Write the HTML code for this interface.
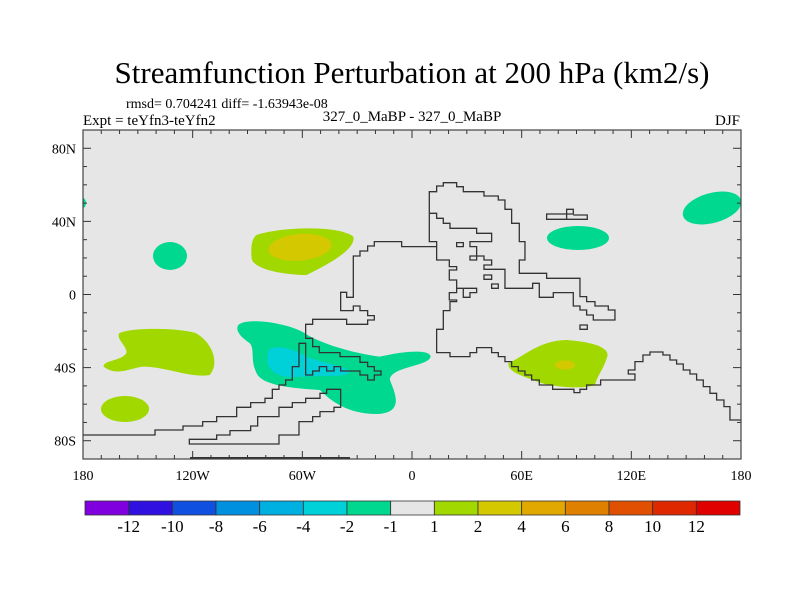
<!DOCTYPE html>
<html><head><meta charset="utf-8"><style>
html,body{margin:0;padding:0;background:#fff;}
svg text{font-family:"Liberation Serif",serif;fill:#000;}
</style></head><body>
<svg id="chart" width="800" height="600" viewBox="0 0 800 600" xmlns="http://www.w3.org/2000/svg">
<rect width="800" height="600" fill="#fff"/>
<text x="412" y="83" font-size="31" text-anchor="middle">Streamfunction Perturbation at 200 hPa (km2/s)</text>
<text x="126" y="108" font-size="14">rmsd= 0.704241 diff= -1.63943e-08</text>
<text x="83" y="125" font-size="15">Expt = teYfn3-teYfn2</text>
<text x="412" y="121" font-size="15" text-anchor="middle">327_0_MaBP - 327_0_MaBP</text>
<text x="740" y="125" font-size="15" text-anchor="end">DJF</text>
<defs><clipPath id="plotclip"><rect x="83" y="130" width="658" height="329"/></clipPath></defs>
<g>
<rect x="83" y="130" width="658" height="329" fill="#e6e6e6"/>
<g clip-path="url(#plotclip)">
 <g transform="translate(180,170) scale(0.3333)">
  <path fill="#a0d800" d="M230,195 C300,170 480,165 520,200 C530,240 430,290 380,315 C320,315 220,300 215,265 C212,230 215,205 230,195 Z"/>
  <ellipse fill="#d4c800" cx="360" cy="232" rx="95" ry="40" transform="rotate(-5 360 232)"/>
  <path fill="#00d890" d="M175,465 C200,440 330,460 375,490 C420,520 520,550 600,560 C660,545 750,535 752,560 C745,590 630,590 630,630 C640,660 680,730 590,732 C500,732 450,690 420,660 C350,655 250,650 230,610 C210,570 225,540 210,520 C180,500 165,480 175,465 Z"/>
  <path fill="#00d0d8" d="M265,540 C290,520 350,540 380,560 C430,580 500,590 510,605 C500,625 420,615 360,620 C300,630 260,600 262,570 Z"/>
  <path fill="#a0d800" d="M985,580 C1030,560 1080,510 1160,510 C1230,515 1290,530 1282,560 C1270,600 1250,620 1245,645 C1200,660 1100,650 1060,630 C1020,615 985,605 985,580 Z"/>
  <ellipse fill="#d4c800" cx="1155" cy="585" rx="30" ry="14"/>
 </g>
 <ellipse fill="#00d890" cx="170" cy="256" rx="17" ry="14"/>
 <ellipse fill="#00d890" cx="578" cy="238" rx="31" ry="12"/>
 <ellipse fill="#00d890" cx="712" cy="208" rx="30" ry="15" transform="rotate(-15 712 208)"/>
 <ellipse fill="#00d890" cx="83" cy="203" rx="3" ry="5"/>
 <g transform="translate(83,300) scale(0.3333)">
  <path fill="#a0d800" d="M108,100 C150,80 300,85 340,100 C390,130 410,190 380,225 C320,235 250,200 180,200 C140,205 100,230 62,200 C60,180 110,185 130,160 C135,140 100,120 108,100 Z"/>
 </g>
 <ellipse fill="#a0d800" cx="125" cy="409" rx="24" ry="13"/>
 <g fill="none" stroke="#333" stroke-width="1.3" transform="translate(180,170) scale(0.3333)">
  <path vector-effect="non-scaling-stroke" d="M770,230 L665,230 L665,215 L583,215 L583,228 L563,228 L563,243 L540,243 L540,258 L520,258 L520,382 L500,382 L500,367 L482,367 L482,422 L520,422 L520,408 L540,408 L540,422 L563,422 L563,437 L583,437 L583,450 L563,450 L563,463 L500,463 L500,448 L398,448 L398,463 L377,463 L377,505 L398,505 L398,530 L418,530 L418,548 L480,548 L480,560 L540,560 L540,577 L563,577 L563,590 L583,590 L583,603 L603,603 L603,615 L583,615 L583,630 L563,630 L563,615 L540,615 L540,603 L482,603 L482,590 L462,590 L462,603 L440,603 L440,590 L418,590 L418,603 L398,603 L398,615 L377,615 L377,520 L357,520 L357,590 L337,590 L337,630 L317,630 L317,645 L297,645 L297,658 L277,658 L277,685 L255,685 L255,698 L212,698 L212,712 L170,712 L170,740 L110,740 L110,755 L68,755 L68,768 L9,768 L9,780 L-75,780 L-75,795 L-300,795"/>
  <path vector-effect="non-scaling-stroke" d="M28,808 L110,808 L110,795 L150,795 L150,782 L212,782 L212,768 L233,768 L233,740 L297,740 L297,712 L337,712 L337,698 L377,698 L377,685 L420,685 L420,670 L440,670 L440,658 L482,658 L482,712 L462,712 L462,725 L420,725 L420,740 L398,740 L398,755 L357,755 L357,795 L297,795 L297,822 L28,822 Z"/>
  <path vector-effect="non-scaling-stroke" d="M770,230 L770,270 L808,270 L808,290 L830,290 L830,300 L808,300 L808,330 L830,330 L830,355 L890,355 L890,368 L870,368 L870,382 L850,382 L850,355 L830,355 L830,368 L808,368 L808,390 L830,390 L830,395 L810,395 L810,422 L790,422 L790,478 L770,478 L770,548 L810,548 L810,560 L870,560 L870,548 L890,548 L890,533 L935,533 L935,548 L955,548 L955,560 L975,560 L975,575 L995,575 L995,590 L1015,590 L1015,603 L1035,603 L1035,615 L1055,615 L1055,630 L1078,630 L1078,645 L1118,645 L1118,658 L1182,658 L1182,668 L1200,668 L1200,658 L1220,658 L1220,645 L1262,645 L1262,630 L1365,630 L1365,612 L1345,612 L1345,600 L1365,600 L1365,575 L1389,575 L1389,555 L1410,555 L1410,546 L1449,546 L1449,555 L1470,555 L1470,570 L1490,570 L1490,582 L1510,582 L1510,600 L1530,600 L1530,612 L1550,612 L1550,630 L1570,630 L1570,650 L1590,650 L1590,670 L1610,670 L1610,690 L1632,690 L1632,710 L1650,710 L1650,750 L1700,750"/>
  <path vector-effect="non-scaling-stroke" d="M770,230 L770,215 L748,215 L748,130 L770,130 L770,145 L790,145 L790,160 L810,160 L810,175 L890,175 L890,190 L935,190 L935,215 L870,215 L870,230 L890,230 L890,258 L912,258 L912,270 L935,270 L935,285 L912,285 L912,298 L975,298 L975,355 L1058,355 L1058,340 L1078,340 L1078,382 L1120,382 L1120,368 L1180,368 L1180,408 L1200,408 L1200,420 L1220,420 L1220,435 L1240,435 L1240,450 L1305,450 L1305,420 L1285,420 L1285,408 L1245,408 L1245,395 L1220,395 L1220,380 L1200,380 L1200,325 L1100,325 L1100,310 L1018,310 L1018,270 L1035,270 L1035,215 L1018,215 L1018,160 L995,160 L995,118 L975,118 L975,90 L955,90 L955,78 L912,78 L912,65 L850,65 L850,50 L830,50 L830,38 L790,38 L790,48 L770,48 L770,65 L748,65 L748,130"/>
  <path vector-effect="non-scaling-stroke" d="M870,258 L890,258 L890,270 L870,270 Z M830,218 L850,218 L850,230 L830,230 Z M912,315 L935,315 L935,328 L912,328 Z M935,342 L955,342 L955,355 L935,355 Z M1200,465 L1222,465 L1222,478 L1200,478 Z M1100,148 L1160,148 L1160,132 L1180,132 L1180,118 L1160,118 L1160,132 L1120,132 L1100,132 Z M1180,135 L1222,135 L1222,148 L1160,148"/>
 </g>
 <line x1="190" y1="458" x2="350" y2="458" stroke="#333" stroke-width="2"/>
</g>
<g id="ticks" stroke="#333" stroke-width="1"></g>
<rect x="83" y="130" width="658" height="329" fill="none" stroke="#444" stroke-width="1.2"/>
</g>
<g id="labels" font-size="14"></g>
<g id="colorbar"></g>
</svg>
<script>
const lonTicks = [-180, -120, -60, 0, 60, 120, 180];
const lonLabels = ["180", "120W", "60W", "0", "60E", "120E", "180"];
const latTicks = [80, 40, 0, -40, -80];
const latLabels = ["80N", "40N", "0", "40S", "80S"];
const cbLevels = ["-12", "-10", "-8", "-6", "-4", "-2", "-1", "1", "2", "4", "6", "8", "10", "12"];
const cbColors = ["#8000e0", "#3010e0", "#1050e0", "#0090e0", "#00b0e0", "#00d0d8", "#00d890", "#e6e6e6", "#a0d800", "#d4c800", "#e0a800", "#e08000", "#e05000", "#e02800", "#e00000"];
const NS = "http://www.w3.org/2000/svg";
const X0 = 83, X1 = 741, Y0 = 130, Y1 = 459;
function xLon(l) { return X0 + (l + 180) / 360 * (X1 - X0); }
function yLat(l) { return Y0 + (90 - l) / 180 * (Y1 - Y0); }
function mk(tag, attrs, parent) { const e = document.createElementNS(NS, tag); for (const k in attrs) e.setAttribute(k, attrs[k]); parent.appendChild(e); return e; }
const tg = document.getElementById('ticks');
for (let l = -180; l <= 180; l += 10) {
  const major = lonTicks.includes(l), len = major ? 8 : 4, x = xLon(l);
  const a = mk('line', { x1: x, x2: x, y1: Y1, y2: Y1 - len }, tg);
  
  
  const b = mk('line', { x1: x, x2: x, y1: Y0, y2: Y0 + len }, tg);
  
  
}
for (let l = -90; l <= 90; l += 10) {
  const major = latTicks.includes(l), len = major ? 8 : 4, y = yLat(l);
  const a = mk('line', { x1: X0, x2: X0 + len, y1: y, y2: y }, tg);
  
  
  const b = mk('line', { x1: X1, x2: X1 - len, y1: y, y2: y }, tg);
  
  
}
const lg = document.getElementById('labels');
lonTicks.forEach((l, i) => {
  const t = mk('text', { x: xLon(l), y: 480, 'text-anchor': 'middle' }, lg);
  t.textContent = lonLabels[i];
  
  
});
latTicks.forEach((l, i) => {
  const t = mk('text', { x: 76, y: yLat(l) + 5, 'text-anchor': 'end' }, lg);
  t.textContent = latLabels[i];
  
  
});
const cb = document.getElementById('colorbar');
const CX0 = 85, CX1 = 740, CY = 501, CH = 14, bw = (CX1 - CX0) / cbColors.length;
cbColors.forEach((c, i) => {
  const r = mk('rect', { x: CX0 + i * bw, y: CY, width: bw, height: CH, fill: c, stroke: '#333', 'stroke-width': 0.8 }, cb);
  
  
});
cbLevels.forEach((s, i) => {
  const t = mk('text', { x: CX0 + (i + 1) * bw, y: 532, 'text-anchor': 'middle', 'font-size': 17 }, cb);
  t.textContent = s;
  
  
});
</script>
</body></html>
